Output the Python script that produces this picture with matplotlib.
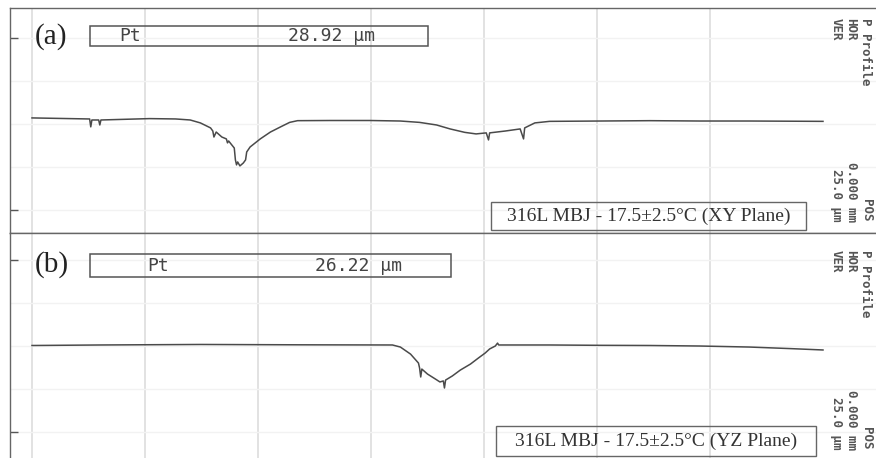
import matplotlib
matplotlib.use("Agg")
import matplotlib.pyplot as plt
from matplotlib.patches import Rectangle

# surface profiles, x = scan position (mm), h = height (um)
x_xy = [0.000, 0.025, 0.050, 0.051, 0.052, 0.053, 0.059, 0.060, 0.061, 0.104,
        0.127, 0.140, 0.149, 0.158, 0.160, 0.161, 0.163, 0.168, 0.172, 0.173,
        0.174, 0.179, 0.180, 0.181, 0.182, 0.184, 0.187, 0.189, 0.190, 0.193,
        0.202, 0.211, 0.220, 0.228, 0.235, 0.264, 0.299, 0.326, 0.343, 0.358,
        0.370, 0.383, 0.393, 0.402, 0.404, 0.405, 0.419, 0.432, 0.435, 0.436,
        0.445, 0.458, 0.503, 0.547, 0.591, 0.635, 0.700]
h_xy = [3.5, 3.2, 2.9, 2.9, -1.7, 2.3, 2.3, -0.6, 2.3, 3.1,
        2.9, 2.3, 0.6, -2.3, -4.1, -7.6, -4.7, -7.6, -8.7, -11.0,
        -9.9, -14.0, -20.9, -23.8, -22.1, -24.4, -22.7, -20.9, -16.3, -13.4,
        -8.7, -4.7, -1.7, 0.9, 1.9, 2.0, 2.0, 1.7, 0.9, -0.6,
        -2.9, -4.9, -5.8, -5.2, -9.3, -5.2, -4.1, -2.9, -8.7, -2.3,
        0.6, 1.5, 1.7, 1.9, 1.7, 1.7, 1.5]

x_yz = [0.000, 0.060, 0.149, 0.237, 0.319, 0.326, 0.335, 0.342, 0.343, 0.344,
        0.345, 0.350, 0.357, 0.361, 0.364, 0.365, 0.366, 0.372, 0.379, 0.388,
        0.395, 0.401, 0.405, 0.410, 0.412, 0.413, 0.458, 0.503, 0.547, 0.591,
        0.635, 0.671, 0.700]
h_yz = [0.3, 0.6, 0.9, 0.7, 0.6, -0.6, -4.7, -9.9, -12.8, -18.0,
        -13.4, -16.3, -19.2, -20.9, -20.3, -24.4, -19.8, -17.4, -14.0, -10.5,
        -7.0, -4.1, -1.7, 0.0, 1.7, 0.6, 0.6, 0.4, 0.3, 0.0,
        -0.6, -1.5, -2.3]

labels = ["(a)", "(b)"]
pt_values = ["28.92 µm", "26.22 µm"]
captions = ["316L MBJ - 17.5±2.5°C (XY Plane)", "316L MBJ - 17.5±2.5°C (YZ Plane)"]
x_grid = [0.0, 0.1, 0.2, 0.3, 0.4, 0.5, 0.6]
y_grid = [-50, -25, 0, 25, 50]

fig = plt.figure(figsize=(8.76, 4.58), dpi=100)
ax_a = fig.add_axes([10 / 876, 225 / 458, 866 / 876, 225 / 458])
ax_b = fig.add_axes([10 / 876, 0, 866 / 876, 225 / 458])

panels = [
    dict(ax=ax_a, x=x_xy, h=h_xy, ylim=(-63.4, 67.4),
         pt_box=(0.0924, 0.8311, 0.3903, 0.0889), pt_x=0.1386, val_x=0.321, pt_y=0.8756,
         lab_y=0.871, cap_box=(0.5554, 0.0133, 0.3637, 0.1244), cap_x=0.7373, cap_y=0.0756,
         top=0.9556, bot=0.0489),
    dict(ax=ax_b, x=x_yz, h=h_yz, ylim=(-65.1, 65.7),
         pt_box=(0.0924, 0.8044, 0.4169, 0.1022), pt_x=0.1709, val_x=0.3522, pt_y=0.8533,
         lab_y=0.858, cap_box=(0.5612, 0.0089, 0.3695, 0.1333), cap_x=0.7460, cap_y=0.0756,
         top=0.924, bot=0.0356),
]
cols = ((866 - 10) / 866, (851 - 10) / 866, (836 - 10) / 866)

for i, p in enumerate(panels):
    ax = p["ax"]
    ax.set_xlim(-22 / 1130, 844 / 1130)
    ax.set_ylim(*p["ylim"])
    for xv in x_grid:
        ax.axvline(xv, color="#dadada", lw=1.1, zorder=0)
    for yv in y_grid:
        ax.axhline(yv, color="#f2f2f2", lw=1.0, zorder=0)
    ax.plot(p["x"], p["h"], color="#4a4a4a", lw=1.1)

    ax.set_xticks([])
    ax.set_yticks([-50, 50])
    ax.set_yticklabels([])
    ax.tick_params(axis="y", direction="in", length=6, width=1, color="#555")
    ax.spines["right"].set_visible(False)
    for s in ["left", "top", "bottom"]:
        ax.spines[s].set_color("#666")
        ax.spines[s].set_linewidth(1.0)
    if i == 1:
        ax.spines["bottom"].set_visible(False)

    ax.text(0.029, p["lab_y"], labels[i], transform=ax.transAxes, ha="left", va="center",
            fontsize=21, family="Liberation Serif", color="#222")
    bx, by, bw, bh = p["pt_box"]
    ax.add_patch(Rectangle((bx, by), bw, bh, transform=ax.transAxes, fill=False,
                           ec="#555", lw=1.1))
    ax.text(p["pt_x"], p["pt_y"], "Pt", transform=ax.transAxes, ha="center", va="center",
            fontsize=13, family="DejaVu Sans Mono", color="#444")
    ax.text(p["val_x"], p["pt_y"], pt_values[i], transform=ax.transAxes, ha="left", va="center",
            fontsize=13, family="DejaVu Sans Mono", color="#444")

    cx, cy, cw, ch = p["cap_box"]
    ax.add_patch(Rectangle((cx, cy), cw, ch, transform=ax.transAxes, fill=False,
                           ec="#666", lw=1.0))
    ax.text(p["cap_x"], p["cap_y"], captions[i], transform=ax.transAxes, ha="center",
            va="center", fontsize=14, family="Liberation Serif", color="#333")

    for xc, s in zip(cols, ("P Profile", "HOR", "VER")):
        ax.text(xc, p["top"], s, transform=ax.transAxes, rotation=-90, ha="center", va="top",
                fontsize=9, fontweight="bold", family="DejaVu Sans Mono", color="#555")
    for xc, s in zip(cols, ("POS", "0.000 mm", "25.0 µm")):
        ax.text(xc, p["bot"], s, transform=ax.transAxes, rotation=-90, ha="center", va="bottom",
                fontsize=9, fontweight="bold", family="DejaVu Sans Mono", color="#555")

fig.savefig("out.png", dpi=100)
